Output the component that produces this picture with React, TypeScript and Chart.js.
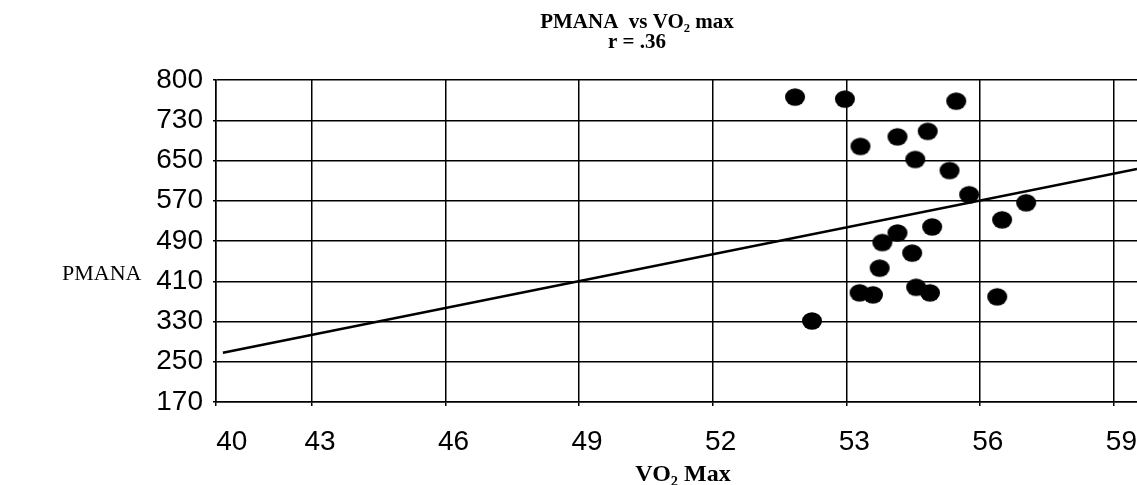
import React, { useEffect, useRef } from "react";
import { Chart, registerables } from "chart.js";

Chart.register(...registerables);

// ---- data ----
const vo2Max = [53.85, 54.97, 57.47, 55.32, 56.15, 56.83, 56.55, 57.32, 57.76, 59.04, 58.5, 56.93, 56.15, 55.81, 56.48, 55.75, 55.3, 55.6, 56.57, 56.88, 58.39, 54.23];
const pmana = [776, 772, 768, 678, 697, 708, 652, 630, 582, 566, 532, 518, 506, 487, 466, 436, 387, 383, 398, 387, 379, 331];

const trendX = [41, 61.53];
const trendY = [268, 633];

const xMin = 40.845;
const xMax = 61.53;
const xTickValues = [40.845, 43, 46, 49, 52, 55, 58, 61];
const xTickLabels = ["40", "43", "46", "49", "52", "53", "56", "59"];

const yMin = 170;
const yMax = 810;
const yTickValues = [170, 250, 330, 410, 490, 570, 650, 730, 810];
const yTickLabels = ["170", "250", "330", "410", "490", "570", "650", "730", "800"];

const titleLine1 = "PMANA  vs VO\u2082 max";
const titleLine2 = "r = .36";
const yTitle = "PMANA";
const xTitle = "VO\u2082 Max";

function makeDot(): HTMLCanvasElement {
  const c = document.createElement("canvas");
  c.width = 22;
  c.height = 20;
  const g = c.getContext("2d")!;
  g.fillStyle = "#000";
  g.beginPath();
  g.ellipse(11, 10, 10, 8.8, 0, 0, Math.PI * 2);
  g.fill();
  return c;
}

const textPlugin = {
  id: "texts",
  afterDraw(chart: any) {
    const ctx = chart.ctx;
    ctx.save();
    ctx.fillStyle = "#000";
    ctx.textBaseline = "alphabetic";
    ctx.textAlign = "center";
    ctx.font = 'bold 21px "Liberation Serif"';
    ctx.fillText(titleLine1, 637, 28);
    ctx.fillText(titleLine2, 637, 48);
    ctx.font = 'bold 24px "Liberation Serif"';
    ctx.fillText(xTitle, 683, 481);
    ctx.textAlign = "left";
    ctx.font = '22px "Liberation Serif"';
    ctx.fillText(yTitle, 62, 280);
    ctx.restore();
  },
};

export default function App() {
  const ref = useRef<HTMLCanvasElement>(null);
  useEffect(() => {
    document.body.style.margin = "0";
    const dot = makeDot();
    const chart = new Chart(ref.current!, {
      type: "scatter",
      data: {
        datasets: [
          {
            data: trendX.map((x, i) => ({ x, y: trendY[i] })),
            showLine: true,
            borderColor: "#000",
            borderWidth: 2.5,
            pointRadius: 0,
            order: 2,
          },
          {
            data: vo2Max.map((x, i) => ({ x, y: pmana[i] })),
            pointStyle: dot as any,
            backgroundColor: "#000",
            borderColor: "#000",
            order: 1,
          },
        ],
      },
      options: {
        responsive: false,
        animation: false,
        layout: { autoPadding: false, padding: { top: 80, left: 0, right: 0, bottom: 0 } },
        plugins: {
          legend: { display: false },
          tooltip: { enabled: false },
          title: { display: false },
        },
        scales: {
          x: {
            type: "linear",
            min: xMin,
            max: xMax,
            afterBuildTicks: (s: any) => {
              s.ticks = xTickValues.map((v) => ({ value: v }));
            },
            afterFit: (s: any) => {
              s.height = 83;
              s.paddingLeft = 0;
              s.paddingRight = 0;
            },
            grid: { color: "#000", lineWidth: 1.5, tickLength: 4, drawTicks: true },
            border: { color: "#000", width: 1.5 },
            ticks: {
              color: "#000",
              font: { family: "Liberation Sans", size: 28 },
              padding: 19,
              labelOffset: 8,
              maxRotation: 0,
              autoSkip: false,
              callback: (_v: any, i: number) => (i === 0 ? "  " + xTickLabels[i] : xTickLabels[i]),
            },
          },
          y: {
            type: "linear",
            min: yMin,
            max: yMax,
            afterBuildTicks: (s: any) => {
              s.ticks = yTickValues.map((v) => ({ value: v }));
            },
            afterFit: (s: any) => {
              s.width = 216;
              s.paddingTop = 0;
              s.paddingBottom = 0;
            },
            grid: { color: "#000", lineWidth: 1.5, tickLength: 3, drawTicks: true },
            border: { color: "#000", width: 1.5 },
            ticks: {
              color: "#000",
              font: { family: "Liberation Sans", size: 28 },
              padding: 10,
              autoSkip: false,
              callback: (_v: any, i: number) => yTickLabels[i],
            },
          },
        },
      },
      plugins: [textPlugin],
    });
    return () => chart.destroy();
  }, []);
  return <canvas ref={ref} width={1137} height={485} style={{ display: "block" }} />;
}
